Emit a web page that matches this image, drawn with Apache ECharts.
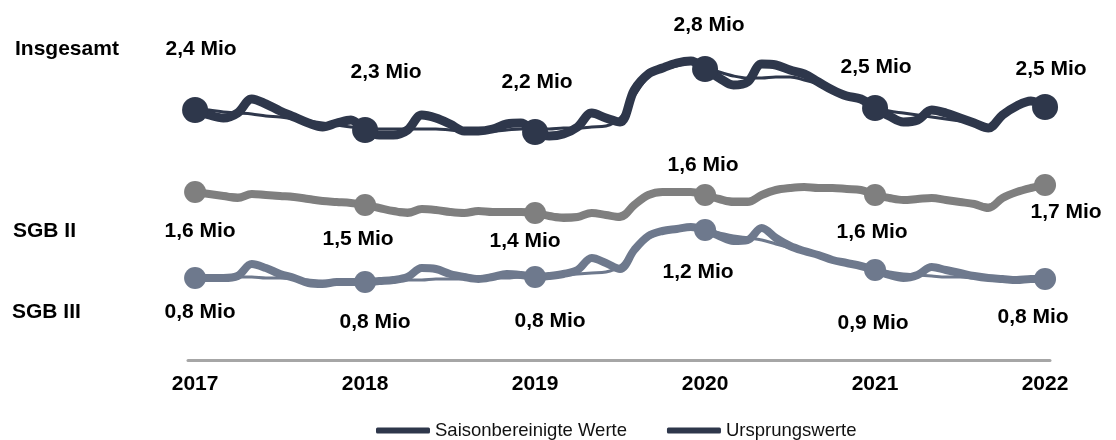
<!DOCTYPE html>
<html>
<head>
<meta charset="utf-8">
<script src="https://cdn.jsdelivr.net/npm/echarts@6/dist/echarts.min.js"></script>
<style>
html,body{margin:0;padding:0;background:#fff}
#chart{width:1116px;height:440px}
</style>
</head>
<body>
<div id="chart"></div>
<script>
// Monatswerte Januar 2017 bis Januar 2022 (61 Werte), in Mio
const years = ['2017', '2018', '2019', '2020', '2021', '2022']
const groupNames = ['Insgesamt', 'SGB II', 'SGB III']

const insgUrsprung = [
    2.40,2.35,2.32,2.37,2.51,2.46,2.39,2.33,2.27,2.23,2.27,2.30,2.20,
    2.15,2.15,2.20,2.35,2.32,2.26,2.19,2.19,2.21,2.26,2.27,2.18,
    2.14,2.16,2.23,2.37,2.32,2.28,2.60,2.76,2.82,2.87,2.89,2.81,
    2.72,2.65,2.68,2.86,2.85,2.80,2.76,2.68,2.60,2.54,2.51,2.42,
    2.34,2.28,2.30,2.40,2.37,2.32,2.27,2.22,2.35,2.44,2.49,2.43]
const insgSaison = [
    2.41,2.40,2.38,2.37,2.36,2.34,2.33,2.31,2.29,2.27,2.25,2.23,2.22,
    2.21,2.21,2.21,2.21,2.21,2.20,2.19,2.19,2.19,2.20,2.21,2.21,
    2.21,2.22,2.22,2.23,2.24,2.32,2.54,2.73,2.80,2.84,2.87,2.83,
    2.78,2.74,2.72,2.72,2.73,2.73,2.70,2.66,2.61,2.55,2.50,2.43,
    2.39,2.37,2.35,2.33,2.31,2.29,2.27,2.24,2.33,2.42,2.48,2.44]

const sgb2Ursprung = [
    1.58,1.56,1.54,1.52,1.56,1.55,1.54,1.53,1.51,1.49,1.48,1.47,1.45,
    1.42,1.39,1.37,1.41,1.40,1.38,1.37,1.39,1.38,1.38,1.38,1.37,
    1.34,1.32,1.33,1.37,1.35,1.33,1.45,1.55,1.58,1.58,1.58,1.55,
    1.51,1.48,1.48,1.55,1.60,1.62,1.63,1.62,1.62,1.61,1.60,1.55,
    1.52,1.50,1.51,1.52,1.50,1.48,1.46,1.42,1.52,1.58,1.62,1.65]
const sgb2Saison = [
    1.58,1.57,1.56,1.55,1.54,1.53,1.52,1.51,1.50,1.49,1.48,1.47,1.45,
    1.43,1.41,1.40,1.40,1.39,1.39,1.38,1.38,1.38,1.38,1.38,1.37,
    1.36,1.35,1.35,1.35,1.35,1.36,1.45,1.54,1.57,1.58,1.58,1.55,
    1.52,1.51,1.51,1.54,1.58,1.61,1.62,1.62,1.62,1.61,1.60,1.55,
    1.53,1.52,1.51,1.50,1.49,1.48,1.47,1.45,1.52,1.58,1.62,1.65]

const sgb3Ursprung = [
    0.72,0.72,0.72,0.74,0.86,0.82,0.76,0.72,0.67,0.66,0.68,0.68,0.68,
    0.69,0.70,0.73,0.82,0.81,0.76,0.73,0.71,0.73,0.76,0.75,0.73,
    0.74,0.76,0.80,0.92,0.87,0.81,1.00,1.14,1.19,1.21,1.23,1.20,
    1.14,1.09,1.10,1.22,1.12,1.04,0.99,0.95,0.90,0.87,0.84,0.80,
    0.75,0.72,0.75,0.83,0.80,0.77,0.74,0.72,0.71,0.70,0.71,0.71]
const sgb3Saison = [
    0.73,0.73,0.73,0.73,0.73,0.72,0.72,0.71,0.70,0.69,0.69,0.69,0.69,
    0.69,0.70,0.70,0.70,0.71,0.71,0.71,0.71,0.72,0.72,0.73,0.73,
    0.74,0.75,0.76,0.77,0.78,0.84,1.00,1.12,1.18,1.21,1.22,1.20,
    1.17,1.14,1.12,1.10,1.06,1.02,0.99,0.95,0.91,0.88,0.84,0.80,
    0.78,0.76,0.75,0.74,0.73,0.73,0.72,0.72,0.71,0.71,0.71,0.71]

// Beschriftungen an den Januarwerten
const insgLabels = ['2,4 Mio', '2,3 Mio', '2,2 Mio', '2,8 Mio', '2,5 Mio', '2,5 Mio']
const sgb2Labels = ['1,6 Mio', '1,5 Mio', '1,4 Mio', '1,6 Mio', '1,6 Mio', '1,7 Mio']
const sgb3Labels = ['0,8 Mio', '0,8 Mio', '0,8 Mio', '1,2 Mio', '0,9 Mio', '0,8 Mio']

// Layout: Lage der Beschriftung relativ zum Punkt
const insgOffsets = [[6,-61],[21,-58],[2,-50],[4,-44],[1,-41],[6,-38]]
const sgb2Offsets = [[5,39],[-7,34],[-10,28],[-2,-30],[-3,37],[21,27]]
const sgb3Offsets = [[5,34],[10,40],[15,44],[-7,42],[-2,53],[-12,38]]

const FONT = '"Liberation Sans", Arial, sans-serif'
const C_NAVY = '#2e374b'
const C_GRAY = '#7f7f7f'
const C_BLUE = '#6e798d'

function thinSeries(values, color){
    return {
        name: 'Saisonbereinigte Werte',
        type: 'line',
        data: values.map((v, i) => [i, v]),
        symbol: 'none',
        smooth: 0.35,
        lineStyle: {color: color, width: 3, cap: 'round', join: 'round'},
        itemStyle: {color: color},
        z: 2
    }
}

function thickSeries(values, labels, offsets, color, size, width){
    let data = values.map((v, i) => {
        if (i % 12 !== 0) return [i, v]
        let k = i / 12
        return {
            value: [i, v],
            label: {show: true, formatter: labels[k], offset: offsets[k]}
        }
    })
    return {
        name: 'Ursprungswerte',
        type: 'line',
        data: data,
        symbol: 'circle',
        symbolSize: (val, p) => p.dataIndex % 12 === 0 ? size : 0,
        showAllSymbol: true,
        smooth: 0.35,
        lineStyle: {color: color, width: width, cap: 'round', join: 'round'},
        itemStyle: {color: color},
        label: {
            show: false,
            position: 'inside',
            fontFamily: FONT,
            fontSize: 21,
            fontWeight: 'bold',
            color: '#000'
        },
        z: 3
    }
}

let option = {
    animation: false,
    backgroundColor: '#fff',
    grid: {left: 188, right: 66, top: 20, bottom: 80, outerBoundsMode: 'none'},
    xAxis: {
        type: 'value',
        min: -0.5,
        max: 60.35,
        splitLine: {show: false},
        axisTick: {show: false},
        axisLine: {show: true, onZero: false, lineStyle: {color: '#a6a6a6', width: 3}},
        axisLabel: {
            customValues: [0, 12, 24, 36, 48, 60],
            formatter: v => years[Math.round(v / 12)],
            fontFamily: FONT,
            fontSize: 21,
            fontWeight: 'bold',
            color: '#000',
            margin: 14
        }
    },
    yAxis: {type: 'value', min: -0.1, max: 3.3, show: false},
    legend: {
        data: ['Saisonbereinigte Werte', 'Ursprungswerte'],
        left: 371,
        top: 421,
        icon: 'roundRect',
        itemWidth: 54,
        itemHeight: 6,
        itemGap: 40,
        padding: [0, 5],
        selectedMode: false,
        textStyle: {fontFamily: FONT, fontSize: 18.5, color: '#111'}
    },
    graphic: [
        {type: 'text', x: 15, y: 49, style: {text: groupNames[0], font: 'bold 21px ' + FONT, fill: '#000', verticalAlign: 'middle'}},
        {type: 'text', x: 13, y: 231, style: {text: groupNames[1], font: 'bold 21px ' + FONT, fill: '#000', verticalAlign: 'middle'}},
        {type: 'text', x: 12, y: 312, style: {text: groupNames[2], font: 'bold 21px ' + FONT, fill: '#000', verticalAlign: 'middle'}}
    ],
    series: [
        thinSeries(insgSaison, C_NAVY),
        thickSeries(insgUrsprung, insgLabels, insgOffsets, C_NAVY, 26, 9),
        thinSeries(sgb2Saison, C_GRAY),
        thickSeries(sgb2Ursprung, sgb2Labels, sgb2Offsets, C_GRAY, 22, 8),
        thinSeries(sgb3Saison, C_BLUE),
        thickSeries(sgb3Ursprung, sgb3Labels, sgb3Offsets, C_BLUE, 22, 8)
    ]
}

let chartDom = echarts.init(document.querySelector('#chart'))
chartDom.setOption(option)
</script>
</body>
</html>
